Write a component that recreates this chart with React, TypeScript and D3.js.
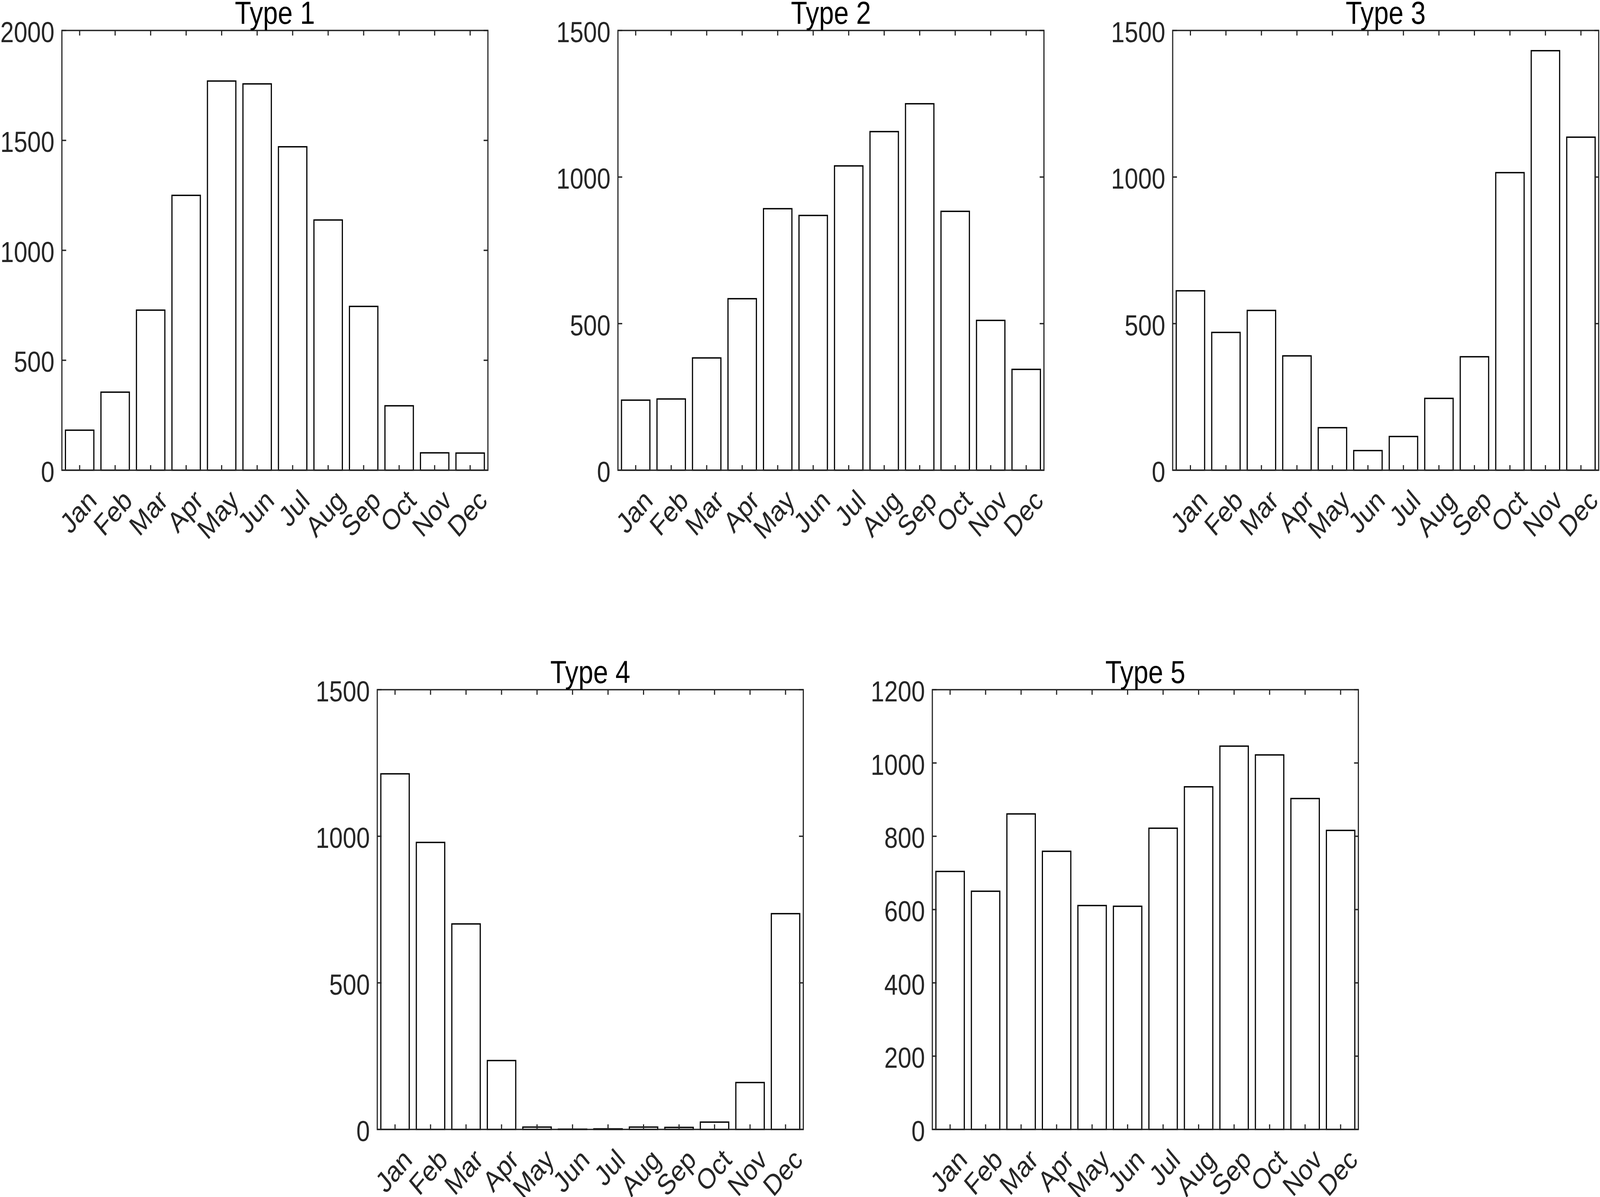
import { useEffect } from "react";
import * as d3 from "d3";

const months = ["Jan", "Feb", "Mar", "Apr", "May", "Jun", "Jul", "Aug", "Sep", "Oct", "Nov", "Dec"];

const type1 = [182, 355, 728, 1250, 1770, 1757, 1471, 1138, 745, 293, 79, 78];
const type2 = [239, 243, 383, 585, 892, 869, 1038, 1155, 1250, 883, 511, 344];
const type3 = [612, 470, 545, 390, 145, 67, 115, 245, 387, 1015, 1431, 1136];
const type4 = [1213, 979, 701, 235, 8, 1, 2, 8, 7, 25, 160, 736];
const type5 = [704, 650, 861, 759, 611, 609, 822, 935, 1046, 1022, 903, 816];

const yTicks1 = [0, 500, 1000, 1500, 2000];
const yTicks15 = [0, 500, 1000, 1500];
const yTicks5 = [0, 200, 400, 600, 800, 1000, 1200];

const titles = ["Type 1", "Type 2", "Type 3", "Type 4", "Type 5"];

const W = 4860;
const H = 3065;
const AX_W = 1294;
const AX_H = 1126;
const FONT = "'Liberation Sans', Arial, Helvetica, sans-serif";
const AXIS_COLOR = "#262626";

interface PanelProps {
  title: string;
  values: number[];
  ticks: number[];
  left: number;
  top: number;
}

const Panel = ({ title, values, ticks, left, top }: PanelProps): JSX.Element => {
  const x = d3
    .scaleBand<string>()
    .domain(months)
    .range([0, AX_W])
    .paddingInner(0.2)
    .paddingOuter(0.1);
  const y = d3
    .scaleLinear()
    .domain([0, ticks[ticks.length - 1]])
    .range([AX_H, 0]);
  const tickLen = 13;

  return (
    <g transform={`translate(${left},${top})`}>
      {values.map((v, i) => (
        <rect
          key={months[i]}
          x={x(months[i]) || 0}
          y={y(v)}
          width={x.bandwidth()}
          height={AX_H - y(v)}
          fill="#fff"
          stroke="#000"
          strokeWidth={3.5}
        />
      ))}
      {/* ticks on all four sides, pointing in */}
      {months.map((m) => {
        const cx = (x(m) || 0) + x.bandwidth() / 2;
        return (
          <g key={m}>
            <line x1={cx} x2={cx} y1={AX_H} y2={AX_H - tickLen} stroke={AXIS_COLOR} strokeWidth={3.5} />
            <line x1={cx} x2={cx} y1={0} y2={tickLen} stroke={AXIS_COLOR} strokeWidth={3.5} />
            <text
              transform={`translate(${cx + 56},${AX_H + 82}) rotate(-45)`}
              textAnchor="end"
              fontFamily={FONT}
              fontSize={74}
              fill={AXIS_COLOR}
            >
              {m}
            </text>
          </g>
        );
      })}
      {ticks.map((t) => (
        <g key={t}>
          <line x1={0} x2={tickLen} y1={y(t)} y2={y(t)} stroke={AXIS_COLOR} strokeWidth={3.5} />
          <line x1={AX_W} x2={AX_W - tickLen} y1={y(t)} y2={y(t)} stroke={AXIS_COLOR} strokeWidth={3.5} />
          <text
            x={-22.5}
            y={y(t) + 30}
            textAnchor="end"
            fontFamily={FONT}
            fontSize={74}
            fill={AXIS_COLOR}
          >
            {t}
          </text>
        </g>
      ))}
      <rect x={0} y={0} width={AX_W} height={AX_H} fill="none" stroke={AXIS_COLOR} strokeWidth={3.5} />
      <text
        x={AX_W / 2}
        y={-17}
        textAnchor="middle"
        fontFamily={FONT}
        fontSize={81}
        fill="#000"
      >
        {title}
      </text>
    </g>
  );
};

const App = (): JSX.Element => {
  useEffect(() => {
    document.body.style.margin = "0";
    document.body.style.overflow = "hidden";
  }, []);

  // the viewBox keeps the reference's 4860x3065 frame whatever the viewport is
  return (
    <svg
      viewBox={`0 0 ${W} ${H}`}
      preserveAspectRatio="none"
      style={{ display: "block", width: "100vw", height: "100vh", background: "#fff" }}
    >
      <rect width={W} height={H} fill="#fff" />
      <Panel title={titles[0]} values={type1} ticks={yTicks1} left={188} top={78} />
      <Panel title={titles[1]} values={type2} ticks={yTicks15} left={1877} top={78} />
      <Panel title={titles[2]} values={type3} ticks={yTicks15} left={3562} top={78} />
      <Panel title={titles[3]} values={type4} ticks={yTicks15} left={1146} top={1766} />
      <Panel title={titles[4]} values={type5} ticks={yTicks5} left={2832} top={1766} />
    </svg>
  );
};

export default App;
